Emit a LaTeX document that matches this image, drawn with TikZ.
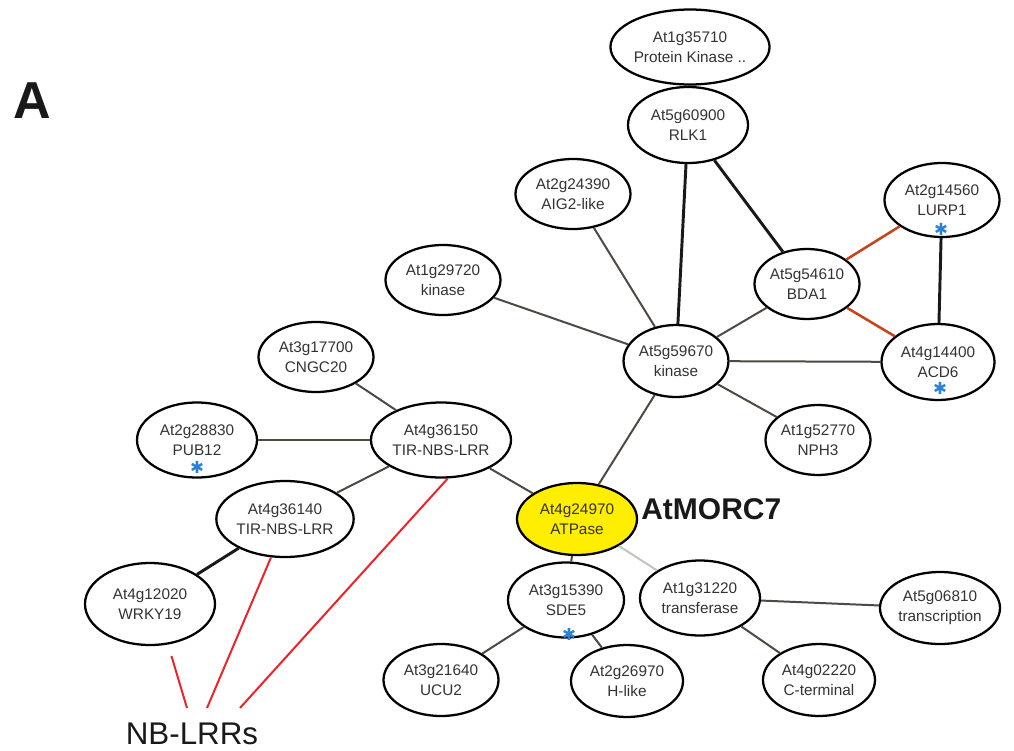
\documentclass[tikz,border=0pt]{standalone}
\usepackage{fontspec}
\setmainfont{Liberation Sans}
\newfontfamily\symfont{DejaVu Sans}
\usetikzlibrary{shapes.geometric,calc}
\definecolor{txt}{HTML}{333333}
\definecolor{edgegray}{HTML}{4F4944}
\definecolor{edgelight}{HTML}{C4C4BC}
\definecolor{edgeorange}{HTML}{C4441C}
\definecolor{nbred}{HTML}{EE2228}
\definecolor{astblue}{HTML}{2B82D4}
\definecolor{morcyellow}{HTML}{FFEE00}
\begin{document}
\begin{tikzpicture}[x=0.75pt,y=-0.75pt,
  gene/.style 2 args={ellipse,draw=black,line width=1.7pt,fill=white,inner sep=0pt,
    minimum width=#1*0.75pt,minimum height=#2*0.75pt,align=center,text=txt,
    font=\fontsize{11.5}{14.8}\selectfont},
  ast/.style={text=astblue,inner sep=0pt,font=\symfont\fontsize{12.5}{12.5}\selectfont},
  ethick/.style={draw=black!90,line width=2.2pt},
  emed/.style={draw=edgegray,line width=1.5pt},
  eblack/.style={draw=black!85,line width=1.6pt},
  eorange/.style={draw=edgeorange,line width=1.9pt},
  elight/.style={draw=edgelight,line width=1.5pt},
  ered/.style={draw=nbred,line width=1.5pt}]
\useasboundingbox (0,0) rectangle (1014,750);

% panel label
\node[font=\bfseries\fontsize{39}{39}\selectfont,text=black!90,anchor=base,inner sep=0pt] (lblA) at (32,118) {A};

% nodes
\node[gene={150}{75}] (n35710) at (690,47) {At1g35710\\Protein Kinase ..};
\node[gene={120}{76}] (n60900) at (688,125) {At5g60900\\RLK1};
\node[gene={115}{70}] (n24390) at (573,194) {At2g24390\\AIG2-like};
\node[gene={115}{74}] (n14560) at (942,200) {At2g14560\\LURP1};
\node[gene={105}{70}] (n54610) at (807,284) {At5g54610\\BDA1};
\node[gene={115}{70}] (n29720) at (443,280) {At1g29720\\kinase};
\node[gene={100}{72}] (n59670) at (676,361) {At5g59670\\kinase};
\node[gene={113}{76}] (n14400) at (938,362) {At4g14400\\ACD6};
\node[gene={115}{70}] (n17700) at (316,357) {At3g17700\\CNGC20};
\node[gene={120}{75}] (n28830) at (197,440) {At2g28830\\PUB12};
\node[gene={140}{75}] (n36150) at (441,440) {At4g36150\\TIR-NBS-LRR};
\node[gene={105}{70}] (n52770) at (818,440) {At1g52770\\NPH3};
\node[gene={137}{76}] (n36140) at (285,519) {At4g36140\\TIR-NBS-LRR};
\node[gene={120}{72},fill=morcyellow] (n24970) at (577,519) {At4g24970\\ATPase};
\node[gene={130}{82}] (n12020) at (150,604) {At4g12020\\WRKY19};
\node[gene={116}{75}] (n15390) at (566,600) {At3g15390\\SDE5};
\node[gene={120}{75}] (n31220) at (700,598) {At1g31220\\transferase};
\node[gene={120}{72}] (n06810) at (940,608) {At5g06810\\transcription};
\node[gene={115}{72}] (n21640) at (441,680) {At3g21640\\UCU2};
\node[gene={112}{72}] (n26970) at (627,681) {At2g26970\\H-like};
\node[gene={112}{72}] (n02220) at (819,680) {At4g02220\\C-terminal};

% asterisks
\node[ast] (a14560) at (941,229) {✱};
\node[ast] (a14400) at (940,388) {✱};
\node[ast] (a28830) at (197,467) {✱};
\node[ast] (a15390) at (569,634) {✱};

% labels
\node[font=\bfseries\fontsize{22.5}{22.5}\selectfont,text=black!90,anchor=west,inner sep=0pt] (morc) at (641,509) {AtMORC7};
\node[font=\fontsize{23.5}{23.5}\selectfont,text=black!90,anchor=base,inner sep=0pt] (nblrr) at (192,744) {NB-LRRs};
\coordinate (nb1) at (187,708);
\coordinate (nb2) at (207,708);
\coordinate (nb3) at (240,708);

% edges
\draw[eblack] (n35710) -- (n60900);
\draw[ethick] (n60900) -- (n59670);
\draw[ethick] (n60900) -- (n54610);
\draw[emed] (n24390) -- (n59670);
\draw[emed] (n29720) -- (n59670);
\draw[emed] (n54610) -- (n59670);
\draw[eorange] (n54610) -- (n14560);
\draw[eorange] (n54610) -- (n14400);
\draw[ethick] (n14560) -- (n14400);
\draw[emed] (n59670) -- (n14400);
\draw[emed] (n59670) -- (n52770);
\draw[emed] (n59670) -- (n24970);
\draw[emed] (n17700) -- (n36150);
\draw[emed] (n28830) -- (n36150);
\draw[emed] (n36150) -- (n36140);
\draw[emed] (n36150) -- (n24970);
\draw[ethick] (n36140) -- (n12020);
\draw[emed] (n24970) -- (n15390);
\draw[elight] (n24970) -- (n31220);
\draw[emed] (n15390) -- (n21640);
\draw[emed] (n15390) -- (n26970);
\draw[emed] (n31220) -- (n06810);
\draw[emed] (n31220) -- (n02220);

% NB-LRR red lines
\draw[ered,shorten >=9pt] (nb1) -- (n12020.-66);
\draw[ered] (nb2) -- (n36140.250);
\draw[ered] (nb3) -- (n36150.-80);
\end{tikzpicture}
\end{document}
